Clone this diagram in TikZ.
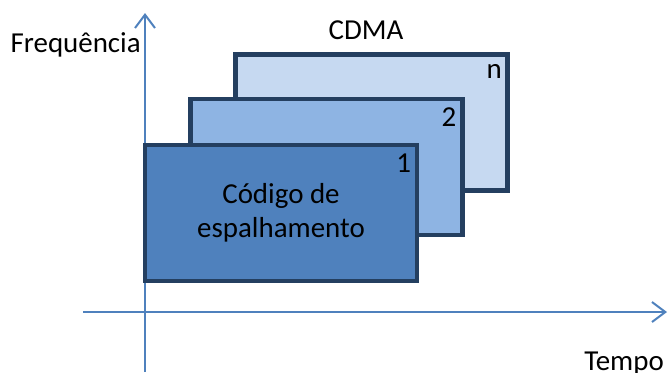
\documentclass[tikz,border=0pt]{standalone}
\usepackage{fontspec}
\setmainfont{Carlito}
\usetikzlibrary{arrows.meta}
\usetikzlibrary{positioning}
\definecolor{axisblue}{HTML}{4F81BD}
\definecolor{layerborder}{HTML}{243F60}
\definecolor{layerdark}{HTML}{4F81BD}
\definecolor{layermid}{HTML}{8EB4E3}
\definecolor{layerlight}{HTML}{C6D9F1}
\tikzstyle{layer} = [draw=layerborder, line width=3.5pt, minimum width=204pt,
minimum height=102pt, inner sep=0pt, align=center]
\tikzstyle{axis} = [draw=axisblue, line width=1.5pt, -{Straight Barb[length=10pt,width=15pt]}]
\tikzstyle{txt} = [font=\fontsize{21.7pt}{25.5pt}\selectfont, inner sep=0pt]

\begin{document}
\begin{tikzpicture}[x=0.75pt, y=-0.75pt]
	\useasboundingbox (0,0) rectangle (668,372);
	%% Axes
	\coordinate (ybot) at (145,372);
	\coordinate (ytop) at (145,13);
	\coordinate (xleft) at (83,312);
	\coordinate (xright) at (667,312);
	\path [axis] (ybot) -- (ytop);
	\path [axis] (xleft) -- (xright);
	\node [txt, anchor=base east] (freq) at (141,52) {Frequência};
	\node [txt, anchor=base west] (tempo) at (584,370) {Tempo};
	\node [txt, anchor=base] (cdma) at (366,39) {CDMA};
	%% Layers
	\node [layer, fill=layerlight] (bn) at (371.75,122.5) {};
	\node [layer, fill=layermid] (b2) at (326.25,167) {};
	\node [layer, fill=layerdark, font=\fontsize{21.7pt}{25.5pt}\selectfont] (b1) at (281,213) {Código de\\espalhamento};
	\node [txt, below left=9pt and 6pt of bn.north east] (ln) {n};
	\node [txt, below left=8pt and 6pt of b2.north east] (l2) {2};
	\node [txt, below left=8pt and 6pt of b1.north east] (l1) {1};
\end{tikzpicture}
\end{document}
